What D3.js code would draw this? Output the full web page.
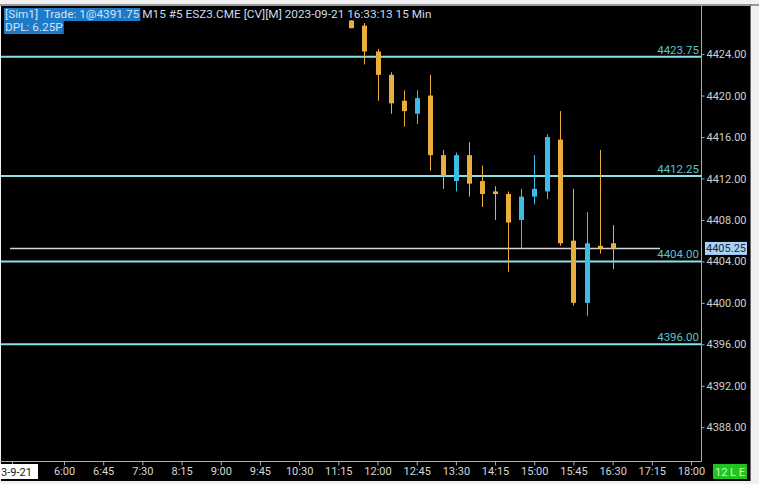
<!DOCTYPE html>
<html><head><meta charset="utf-8">
<script src="https://cdn.jsdelivr.net/npm/d3@7"></script>
<style>html,body{margin:0;padding:0;background:#f0f0f0;overflow:hidden}svg{display:block}text{white-space:pre}</style>
</head><body><svg id="c" width="759" height="484"></svg>
<script>
// ---- data ----
const candleTimes = ["11:30","11:45","12:00","12:15","12:30","12:45","13:00","13:15","13:30","13:45","14:00","14:15","14:30","14:45","15:00","15:15","15:30","15:45","16:00","16:15","16:30"];
const opens  = [4427.25,4426.75,4424.25,4422.00,4419.50,4418.25,4420.00,4414.25,4411.75,4414.25,4411.75,4410.75,4410.50,4408.00,4410.25,4410.75,4415.75,4406.00,4400.00,4405.50,4405.75];
const highs  = [4427.25,4427.00,4424.50,4422.25,4420.50,4420.50,4422.00,4414.75,4414.50,4415.50,4413.25,4411.25,4410.75,4411.00,4414.25,4416.25,4418.50,4411.00,4408.75,4414.75,4407.50];
const lows   = [4426.50,4423.00,4419.50,4418.25,4417.00,4417.25,4412.75,4411.00,4410.75,4410.25,4409.25,4408.00,4403.00,4405.25,4409.50,4410.00,4405.50,4399.75,4398.75,4404.75,4403.25];
const closes = [4426.50,4424.25,4422.00,4419.25,4418.50,4419.75,4414.25,4412.25,4414.25,4411.50,4410.50,4410.50,4407.75,4410.25,4411.00,4416.00,4405.75,4400.00,4405.75,4405.25,4405.25];
const levelPrices = [4423.75, 4412.25, 4404.00, 4396.00];
const lastPrice = 4405.25;
const yTickValues = [4424, 4420, 4416, 4412, 4408, 4404, 4400, 4396, 4392, 4388];
const xTickLabels = ["6:00","6:45","7:30","8:15","9:00","9:45","10:30","11:15","12:00","12:45","13:30","14:15","15:00","15:45","16:30","17:15","18:00"];
const dateLabel = "3-9-21";
const titleHighlighted = "[Sim1]  Trade: 1@4391.75";
const titleRest = " M15 #5 ESZ3.CME [CV][M] 2023-09-21 16:33:13 15 Min";
const subtitle = "DPL: 6.25P";
const statusLabel = "12 L E";

// ---- setup ----
const svg = d3.select("#c");
const W = 759, H = 484;
const plotL = 1, plotR = 701, plotT = 6, plotB = 461;
const parseT = d3.timeParse("%Y-%m-%d %H:%M");
const day = "2023-09-21 ";
const x = d3.scaleTime().domain([parseT(day+"6:00"), parseT(day+"18:00")]).range([64, 691]);
const y = d3.scaleLinear().domain([4424, 4396]).range([54.1, 344.3]);
const FONT = "Roboto, 'Noto Sans', sans-serif";

// backgrounds
svg.append("rect").attr("width", W).attr("height", H).attr("fill", "#f0f0f0");
svg.append("rect").attr("x", 0).attr("y", 4).attr("width", W).attr("height", 2).attr("fill", "#9a9a9a");
svg.append("rect").attr("x", 1).attr("y", 6).attr("width", 749).attr("height", 475).attr("fill", "#000");
svg.append("rect").attr("x", 750).attr("y", 4).attr("width", 1).attr("height", 477).attr("fill", "#6a6a6a");

svg.append("defs").append("clipPath").attr("id", "pc")
  .append("rect").attr("x", plotL).attr("y", plotT).attr("width", plotR - plotL).attr("height", plotB - plotT);
const plot = svg.append("g").attr("clip-path", "url(#pc)");

// level lines
plot.selectAll("line.lvl").data(levelPrices).join("line").attr("class", "lvl")
  .attr("x1", plotL).attr("x2", plotR)
  .attr("y1", d => y(d)).attr("y2", d => y(d))
  .attr("stroke", "#86e2ea").attr("stroke-width", 2);

// last price line
plot.append("line").attr("x1", 10).attr("x2", 660)
  .attr("y1", y(lastPrice)).attr("y2", y(lastPrice))
  .attr("stroke", "#d4d4d4").attr("stroke-width", 1.5);

// candles
const candles = candleTimes.map((t, i) => ({t: parseT(day + t), o: opens[i], h: highs[i], l: lows[i], c: closes[i]}));
const UP = "#3bbde6", DN = "#e9ae3d";
const col = d => d.c > d.o ? UP : DN;
const cg = plot.selectAll("g.candle").data(candles).join("g").attr("class", "candle");
cg.append("line")
  .attr("x1", d => Math.round(x(d.t)) + 0.5).attr("x2", d => Math.round(x(d.t)) + 0.5)
  .attr("y1", d => y(d.h)).attr("y2", d => y(d.l))
  .attr("stroke", col).attr("stroke-width", 1);
cg.append("rect")
  .attr("x", d => Math.round(x(d.t)) - 2).attr("width", 5)
  .attr("y", d => y(Math.max(d.o, d.c)))
  .attr("height", d => Math.max(1.5, y(Math.min(d.o, d.c)) - y(Math.max(d.o, d.c))))
  .attr("fill", col);

// level labels
svg.selectAll("text.lvl").data(levelPrices).join("text").attr("class", "lvl")
  .attr("x", 699).attr("y", d => y(d) - 3)
  .attr("text-anchor", "end").attr("font-family", FONT).attr("font-size", 11.5)
  .attr("fill", "#58c4c6").text(d => d.toFixed(2));

// frame
svg.append("line").attr("x1", plotR + 0.5).attr("x2", plotR + 0.5).attr("y1", plotT).attr("y2", plotB + 0.5)
  .attr("stroke", "#9cb2cc").attr("stroke-width", 1);
svg.append("line").attr("x1", 0).attr("x2", plotR + 0.5).attr("y1", plotB + 0.5).attr("y2", plotB + 0.5)
  .attr("stroke", "#9cb2cc").attr("stroke-width", 1);

// right axis
const yAxis = d3.axisRight(y).tickValues(yTickValues).tickSize(3).tickPadding(2).tickFormat(d => d.toFixed(2));
const ya = svg.append("g").attr("transform", `translate(${plotR + 0.5},0)`).call(yAxis);
ya.select(".domain").remove();
ya.selectAll("line").attr("stroke", "#9cb2cc");
ya.selectAll("text").attr("font-family", FONT).attr("font-size", 11).attr("fill", "#cfcfcf");

// last price tag
const tag = svg.append("g").attr("transform", `translate(705,${y(lastPrice)})`);
tag.append("rect").attr("x", 0).attr("y", -6.5).attr("width", 42).attr("height", 13).attr("fill", "#a9d2f7");
tag.append("text").attr("x", 21).attr("y", 4).attr("text-anchor", "middle")
  .attr("font-family", FONT).attr("font-size", 11).attr("fill", "#1a2a3a").text(lastPrice.toFixed(2));

// bottom axis
const xTickDates = xTickLabels.map(s => parseT(day + s));
const xAxis = d3.axisBottom(x).tickValues(xTickDates).tickSize(4).tickPadding(2).tickFormat(d3.timeFormat("%-H:%M"));
const xa = svg.append("g").attr("transform", `translate(0,${plotB + 0.5})`).call(xAxis);
xa.select(".domain").remove();
xa.selectAll("line").attr("stroke", "#9cb2cc");
xa.selectAll("text").attr("font-family", FONT).attr("font-size", 11).attr("fill", "#d6d6d6");

// date tick + label
const dateT = parseT(day + "5:00");
svg.append("line").attr("x1", Math.round(x(dateT)) + 0.5).attr("x2", Math.round(x(dateT)) + 0.5)
  .attr("y1", plotB).attr("y2", plotB + 4).attr("stroke", "#9cb2cc");
svg.append("rect").attr("x", 0).attr("y", 464).attr("width", 38).attr("height", 15).attr("fill", "#ffffff");
svg.append("text").attr("x", 1).attr("y", 475.5).attr("font-family", FONT).attr("font-size", 11)
  .attr("fill", "#202020").text(dateLabel);

// status box
svg.append("rect").attr("x", 713).attr("y", 464).attr("width", 34).attr("height", 15).attr("fill", "#1fc41f");
svg.append("text").attr("x", 730).attr("y", 475.5).attr("text-anchor", "middle").attr("font-family", FONT)
  .attr("font-size", 11).attr("fill", "#c8f8c8").text(statusLabel);

// title
const t1 = svg.append("text").attr("x", 5).attr("y", 18).attr("font-family", FONT).attr("font-size", 11.8);
const hl = t1.append("tspan").attr("fill", "#cfe3f7").text(titleHighlighted);
t1.append("tspan").attr("fill", "#c9dcf0").text(titleRest);
const hlW = hl.node().getComputedTextLength();
svg.insert("rect", "text").attr("x", 4).attr("y", 8).attr("width", hlW + 2).attr("height", 13).attr("fill", "#1f79c9");
const t2 = svg.append("text").attr("x", 5).attr("y", 31).attr("font-family", FONT).attr("font-size", 11.8)
  .attr("fill", "#cfe3f7").text(subtitle);
const sW = t2.node().getComputedTextLength();
svg.insert("rect", "text").attr("x", 4).attr("y", 21).attr("width", sW + 2).attr("height", 13).attr("fill", "#1f79c9");
t1.raise(); t2.raise();
</script></body></html>
